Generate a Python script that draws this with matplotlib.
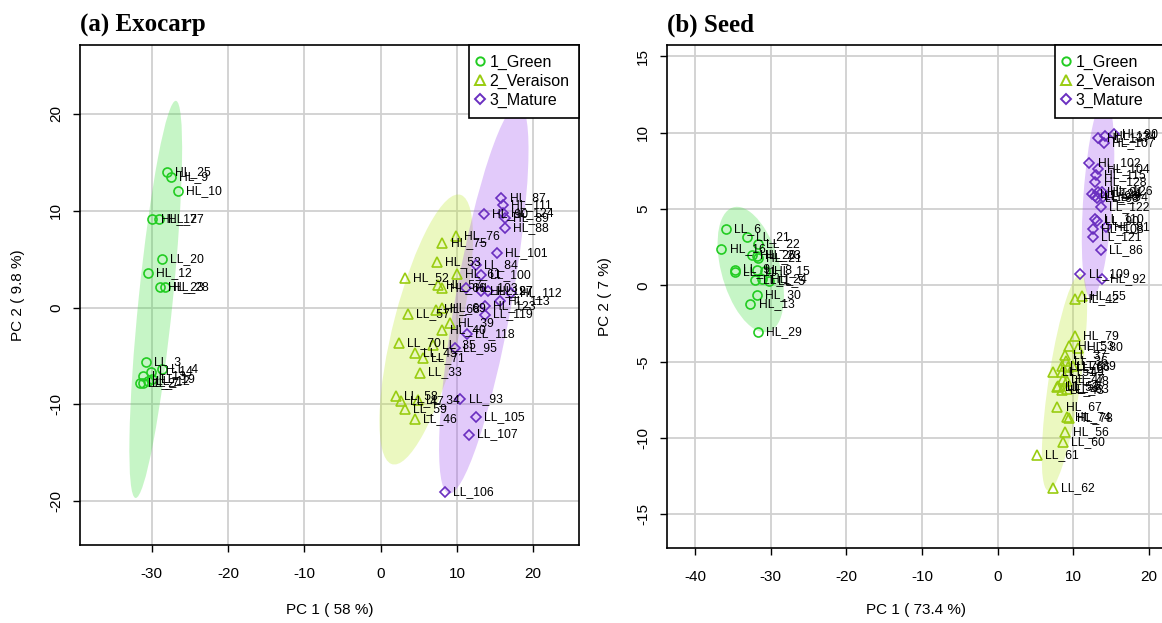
import numpy as np
import matplotlib
matplotlib.use("Agg")
import matplotlib.pyplot as plt
from matplotlib.patches import Ellipse
from matplotlib.lines import Line2D

plt.rcParams['font.family'] = ['Liberation Sans', 'DejaVu Sans']
plt.rcParams['axes.unicode_minus'] = False

# ---- (a) Exocarp ----
exo_green_names = ['HL_25', 'HL_9', 'HL_10', 'HL_17', 'HL_27', 'LL_20', 'HL_12', 'HL_23', 'HL_28',
                   'LL_3', 'LL_4', 'LL_14', 'LL_13', 'LL_19', 'LL_12', 'LL_2', 'LL_7']
exo_green_pc1 = [-28.0, -27.5, -26.6, -29.9, -29.0, -28.7, -30.5, -28.9, -28.3,
                 -30.75, -28.6, -30.1, -31.1, -29.9, -30.5, -31.6, -31.1]
exo_green_pc2 = [14.0, 13.5, 12.0, 9.1, 9.1, 5.05, 3.6, 2.1, 2.1,
                 -5.6, -6.3, -6.6, -7.1, -7.35, -7.6, -7.8, -7.8]

exo_ver_names = ['HL_76', 'HL_75', 'HL_53', 'HL_52', 'HL_61', 'HL_57', 'HL_66', 'HL_68', 'HL_69',
                 'LL_57', 'HL_39', 'HL_40', 'LL_70', 'LL_45', 'LL_71', 'LL_35', 'LL_33',
                 'LL_58', 'LL_47', 'LL_34', 'LL_59', 'LL_46']
exo_ver_pc1 = [9.85, 8.1, 7.4, 3.15, 10.0, 7.5, 8.0, 7.2, 8.0,
               3.6, 9.05, 8.0, 2.4, 4.5, 5.55, 6.9, 5.1,
               1.97, 2.7, 4.9, 3.15, 4.5]
exo_ver_pc2 = [7.35, 6.7, 4.7, 3.06, 3.5, 2.3, 2.0, -0.2, 0.0,
               -0.7, -1.6, -2.3, -3.7, -4.7, -5.2, -3.9, -6.7,
               -9.1, -9.65, -9.55, -10.5, -11.5]

exo_mat_names = ['HL_87', 'HL_111', 'HL_90', 'HL_124', 'HL_89', 'HL_88', 'HL_101', 'LL_84', 'LL_100',
                 'HL_103', 'HL_127', 'HL_97', 'HL_112', 'HL_113', 'HL_123', 'LL_119',
                 'LL_118', 'LL_95', 'LL_93', 'LL_105', 'LL_107', 'LL_106']
exo_mat_pc1 = [15.8, 16.05, 13.5, 16.05, 16.3, 16.3, 15.2, 12.5, 13.2,
               11.25, 13.2, 14.1, 17.15, 15.6, 13.65, 13.65,
               11.3, 9.7, 10.45, 12.5, 11.6, 8.4]
exo_mat_pc2 = [11.3, 10.6, 9.7, 9.76, 9.25, 8.2, 5.6, 4.4, 3.4,
               2.03, 1.7, 1.7, 1.5, 0.65, 0.2, -0.72,
               -2.7, -4.2, -9.4, -11.3, -13.1, -19.0]

# ---- (b) Seed ----
seed_green_names = ['LL_6', 'LL_21', 'HL_16', 'LL_22', 'HL_20', 'HL_23', 'HL_21', 'LL_9', 'LL_11',
                    'LL_8', 'HL_15', 'LL_1', 'HL_24', 'LL_5', 'HL_30', 'HL_13', 'HL_29']
seed_green_pc1 = [-35.9, -33.1, -36.5, -31.7, -32.5, -31.8, -31.7, -34.7, -34.7,
                  -31.8, -30.7, -32.1, -31.1, -30.2, -31.8, -32.7, -31.7]
seed_green_pc2 = [3.72, 3.2, 2.4, 2.7, 2.0, 1.96, 1.8, 1.04, 0.87,
                  1.0, 0.93, 0.35, 0.44, 0.28, -0.65, -1.24, -3.05]

seed_ver_names = ['HL_55', 'HL_42', 'HL_79', 'HL_53', 'HL_80', 'LL_37', 'LL_36', 'LL_76', 'LL_66',
                  'LL_39', 'LL_51', 'LL_49', 'LL_47', 'LL_48', 'LL_53', 'LL_43', 'LL_63', 'LL_55',
                  'HL_67', 'HL_74', 'HL_78', 'HL_56', 'LL_60', 'LL_61', 'LL_62']
seed_ver_pc1 = [11.1, 10.2, 10.2, 9.46, 10.65, 8.9, 9.0, 8.45, 9.3,
                9.99, 7.33, 8.45, 8.58, 9.1, 7.78, 8.45, 9.1, 8.0,
                7.87, 9.1, 9.4, 8.89, 8.58, 5.2, 7.25]
seed_ver_pc2 = [-0.7, -0.91, -3.3, -3.96, -4.07, -4.57, -4.94, -5.26, -5.37,
                -5.3, -5.65, -5.7, -6.13, -6.24, -6.67, -6.83, -6.78, -6.57,
                -7.98, -8.63, -8.7, -9.61, -10.26, -11.1, -13.3]

seed_mat_names = ['HL_90', 'HL_134', 'HL_137', 'HL_107', 'HL_102', 'HL_104', 'HL_115', 'HL_128',
                  'HL_126', 'HL_91', 'LL_124', 'LL_96', 'HL_94', 'LL_98', 'LL_122', 'LL_110',
                  'LL_90', 'HL_81', 'HL_108', 'LL_121', 'LL_86', 'LL_109', 'HL_92']
seed_mat_pc1 = [15.3, 14.2, 13.3, 14.0, 12.1, 13.3, 13.0, 12.9,
                13.75, 13.3, 12.4, 12.9, 13.95, 13.1, 13.6, 12.9,
                13.1, 14.3, 12.6, 12.6, 13.6, 10.9, 13.75]
seed_mat_pc2 = [9.92, 9.78, 9.63, 9.35, 8.0, 7.6, 7.24, 6.8,
                6.15, 6.09, 6.0, 5.87, 5.79, 5.72, 5.13, 4.35,
                4.19, 3.83, 3.7, 3.17, 2.3, 0.72, 0.43]

group_labels = ['1_Green', '2_Veraison', '3_Mature']
point_colors = ['#22cc22', '#99cc11', '#6a2fc0']
fill_colors = ['#44e044', '#bfe830', '#a050f0']
markers = ['o', '^', 'D']
marker_sizes = [6.5, 7, 5.5]


def conf_ellipse(ax, x, y, color):
    x = np.asarray(x)
    y = np.asarray(y)
    cov = np.cov(x, y)
    vals, vecs = np.linalg.eigh(cov)
    order = vals.argsort()[::-1]
    vals, vecs = vals[order], vecs[:, order]
    angle = np.degrees(np.arctan2(vecs[1, 0], vecs[0, 0]))
    k = np.sqrt(5.991)  # 95 %
    w, h = 2 * k * np.sqrt(vals)
    ell = Ellipse((x.mean(), y.mean()), w, h, angle=angle,
                  facecolor=color, edgecolor='none', alpha=0.3, zorder=2)
    ax.add_patch(ell)


def draw_panel(ax, groups, xlim, ylim, xticks, yticks, xlabel, ylabel, xlab_y):
    ax.set_xlim(*xlim)
    ax.set_ylim(*ylim)
    ax.set_xticks(xticks)
    ax.set_yticks(yticks)
    ax.grid(True, color='#d0d0d0', lw=1.3)
    ax.set_axisbelow(True)

    for i, (names, xs, ys) in enumerate(groups):
        conf_ellipse(ax, xs, ys, fill_colors[i])
    for i, (names, xs, ys) in enumerate(groups):
        ax.plot(xs, ys, linestyle='none', marker=markers[i], ms=marker_sizes[i],
                mfc='none', mec=point_colors[i], mew=1.2, zorder=4)
        for n, xv, yv in zip(names, xs, ys):
            ax.annotate(n, (xv, yv), xytext=(6, 0), textcoords='offset points',
                        fontsize=8.7, va='center', ha='left', color='black', zorder=5)

    for sp in ax.spines.values():
        sp.set_color('black')
        sp.set_linewidth(1.2)
    ax.tick_params(direction='out', length=5, width=1, labelsize=11, colors='black')
    ax.tick_params(axis='x', pad=11)
    ax.tick_params(axis='y', pad=7)
    for lab in ax.get_yticklabels():
        lab.set_rotation(90)
        lab.set_va('center')

    ax.text(0.5, xlab_y, xlabel, transform=ax.transAxes, ha='center', va='center', fontsize=11)
    ax.text(-0.125, 0.5, ylabel, transform=ax.transAxes, ha='center', va='center',
            fontsize=11, rotation=90)

    handles = [Line2D([], [], linestyle='none', marker=markers[i], ms=marker_sizes[i] - 0.5,
                      mfc='none', mec=point_colors[i], mew=1.4) for i in range(3)]
    leg = ax.legend(handles, group_labels, loc='upper right', borderaxespad=0, fancybox=False,
                    framealpha=1, edgecolor='black', fontsize=11.5, handlelength=0.2,
                    handletextpad=0.5, borderpad=0.6, labelspacing=0.25)
    leg.get_frame().set_linewidth(1.2)
    leg.set_zorder(10)


fig = plt.figure(figsize=(11.62, 6.23), dpi=100)
ax1 = fig.add_axes([80 / 1162, 1 - 545 / 623, 499 / 1162, 500 / 623])
ax2 = fig.add_axes([667 / 1162, 1 - 548 / 623, 498 / 1162, 503 / 623])

draw_panel(ax1,
           [(exo_green_names, exo_green_pc1, exo_green_pc2),
            (exo_ver_names, exo_ver_pc1, exo_ver_pc2),
            (exo_mat_names, exo_mat_pc1, exo_mat_pc2)],
           (-39.4, 26.0), (-24.5, 27.1), [-30, -20, -10, 0, 10, 20], [-20, -10, 0, 10, 20],
           'PC 1 ( 58 %)', 'PC 2 ( 9.8 %)', -0.13)

draw_panel(ax2,
           [(seed_green_names, seed_green_pc1, seed_green_pc2),
            (seed_ver_names, seed_ver_pc1, seed_ver_pc2),
            (seed_mat_names, seed_mat_pc1, seed_mat_pc2)],
           (-43.7, 22.1), (-17.2, 15.75), [-40, -30, -20, -10, 0, 10, 20],
           [-15, -10, -5, 0, 5, 10, 15],
           'PC 1 ( 73.4 %)', 'PC 2 ( 7 %)', -0.123)

fig.text(80 / 1162, 1 - 32 / 623, '(a) Exocarp', fontsize=18, fontweight='bold',
         family='Liberation Serif', va='baseline', ha='left')
fig.text(667 / 1162, 1 - 32 / 623, '(b) Seed', fontsize=18, fontweight='bold',
         family='Liberation Serif', va='baseline', ha='left')

fig.savefig('out.png', dpi=100)
